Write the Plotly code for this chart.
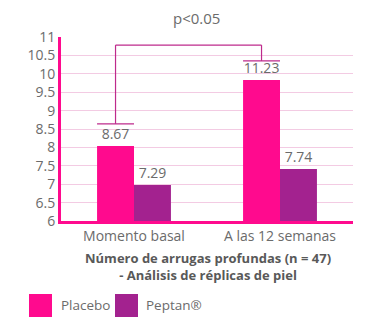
import plotly.graph_objects as go

categories = ["Momento basal", "A las 12 semanas"]
placebo_heights = [8.04, 9.83]
peptan_heights = [6.98, 7.41]
placebo_labels = ["8.67", "11.23"]
peptan_labels = ["7.29", "7.74"]
y_ticks = [6, 6.5, 7, 7.5, 8, 8.5, 9, 9.5, 10, 10.5, 11]
# significance bracket levels (data units)
bracket_top = 10.78
bracket_left_end = 8.64
bracket_right_end = 10.35

PINK = "#FF0A8E"
PURPLE = "#A3228F"
LINE = "#BE2A8C"
GRAY = "#6b6b6b"
FONT = "Open Sans"

fig = go.Figure()
fig.add_trace(go.Bar(x=categories, y=placebo_heights, base=0, name="Placebo",
                     marker=dict(color=PINK, line=dict(width=0)),
                     text=placebo_labels, textposition="outside",
                     textfont=dict(color=GRAY, size=14, family=FONT),
                     cliponaxis=False, showlegend=False))
fig.add_trace(go.Bar(x=categories, y=peptan_heights, base=0, name="Peptan®",
                     marker=dict(color=PURPLE, line=dict(width=0)),
                     text=peptan_labels, textposition="outside",
                     textfont=dict(color=GRAY, size=14, family=FONT),
                     cliponaxis=False, showlegend=False))

bw = 0.253
pc0 = 0 - bw / 2
pc1 = 1 - bw / 2
line = dict(color=LINE, width=1.2)
shapes = [
    dict(type="line", xref="x", yref="y", x0=pc0, x1=pc0, y0=bracket_left_end, y1=bracket_top, line=line),
    dict(type="line", xref="x", yref="y", x0=pc0, x1=pc1, y0=bracket_top, y1=bracket_top, line=line),
    dict(type="line", xref="x", yref="y", x0=pc1, x1=pc1, y0=bracket_right_end, y1=bracket_top, line=line),
    dict(type="line", xref="x", yref="y", x0=pc0 - bw / 2, x1=pc0 + bw / 2, y0=bracket_left_end, y1=bracket_left_end, line=line),
    dict(type="line", xref="x", yref="y", x0=pc1 - bw / 2, x1=pc1 + bw / 2, y0=bracket_right_end, y1=bracket_right_end, line=line),
]
# legend squares (paper coords)
W, H = 373, 332
ml, mr, mt, mb = 61, 20, 37, 111
pw, ph = W - ml - mr, H - mt - mb
def px(x):
    return (x - ml) / pw
def py(y):
    return (H - mb - y) / ph
for x0, col in [(29, PINK), (115, PURPLE)]:
    shapes.append(dict(type="rect", xref="paper", yref="paper",
                       x0=px(x0), x1=px(x0 + 23), y0=py(317), y1=py(294),
                       fillcolor=col, line=dict(width=0)))

annotations = [
    dict(text="p<0.05", xref="paper", yref="paper", x=px(196), y=py(18), yanchor="middle",
         showarrow=False, font=dict(color=GRAY, size=15, family=FONT)),
    dict(text="<b>Número de arrugas profundas (n = 47)<br>- Análisis de réplicas de piel</b>",
         xref="paper", yref="paper", x=px(208), y=py(266), yanchor="middle", showarrow=False,
         font=dict(color="#595959", size=13, family=FONT)),
    dict(text="Placebo", xref="paper", yref="paper", x=px(59), y=py(305), xanchor="left",
         yanchor="middle", showarrow=False, font=dict(color=GRAY, size=13.5, family=FONT)),
    dict(text="Peptan®", xref="paper", yref="paper", x=px(144), y=py(305), xanchor="left",
         yanchor="middle", showarrow=False, font=dict(color=GRAY, size=13.5, family=FONT)),
]

fig.update_layout(
    width=W, height=H, margin=dict(l=ml, r=mr, t=mt, b=mb, pad=0),
    paper_bgcolor="white", plot_bgcolor="white",
    barmode="group", bargap=0.494, bargroupgap=0,
    shapes=shapes, annotations=annotations,
    font=dict(family=FONT, color=GRAY),
    xaxis=dict(showline=True, linecolor=PINK, linewidth=3, ticks="",
               tickfont=dict(size=14, color=GRAY, family=FONT), range=[-0.5, 1.5]),
    yaxis=dict(range=[6, 11], tickvals=y_ticks, ticktext=[f"{v:g}" for v in y_ticks],
               showline=True, linecolor=PINK, linewidth=3, ticks="",
               showgrid=True, gridcolor="#F3CBE3", gridwidth=1, zeroline=False,
               tickfont=dict(size=14, color=GRAY, family=FONT)),
)
fig.write_html("out.html")
